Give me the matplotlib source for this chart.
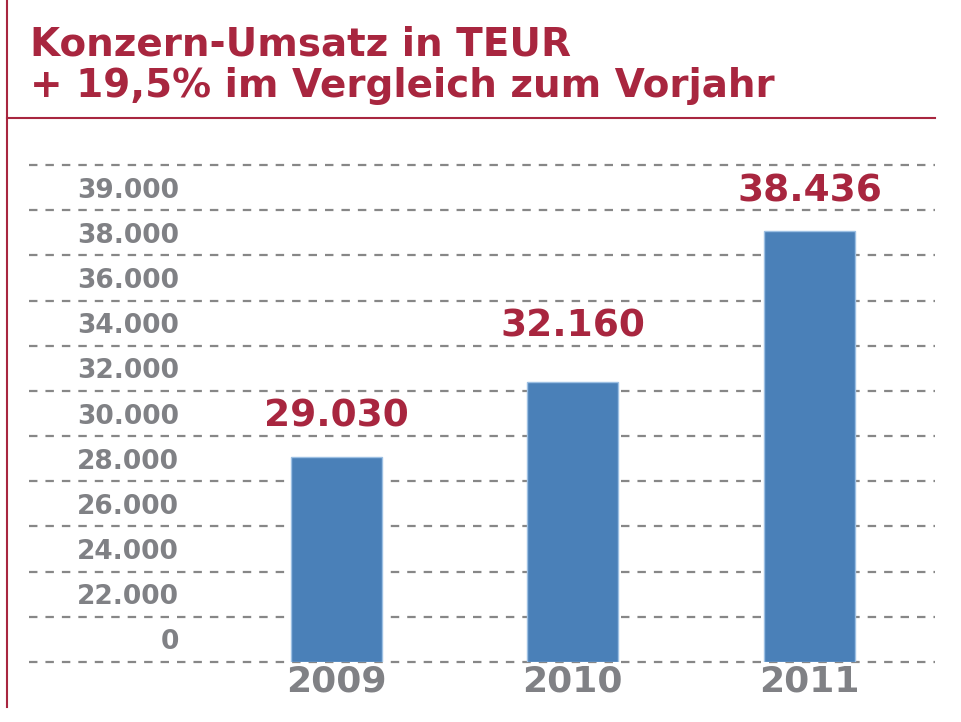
import numpy as np
import matplotlib.pyplot as plt
from matplotlib.lines import Line2D

years = ["2009", "2010", "2011"]
umsatz = [29030, 32160, 38436]
value_labels = ["29.030", "32.160", "38.436"]
tick_labels = ["0", "22.000", "24.000", "26.000", "28.000", "30.000",
               "32.000", "34.000", "36.000", "38.000", "39.000"]

title_1 = "Konzern-Umsatz in TEUR"
title_2 = "+ 19,5% im Vergleich zum Vorjahr"

RED = "#a8263f"
GRAY = "#808185"
BLUE = "#4a80b8"

W, H = 961, 722


def main():
    fig = plt.figure(figsize=(W / 100, H / 100), dpi=100)
    plt.rcParams["font.family"] = ["DejaVu Sans"]

    ax = fig.add_axes([29 / W, 60 / H, 906 / W, 497 / H])

    # broken axis as in the original: bars start at the bottom line
    y_lo, y_hi = 20540, 41170
    ax.set_ylim(y_lo, y_hi)
    ax.set_xlim(-1.297, 2.530)

    x = np.arange(len(years))
    heights = np.array(umsatz) - y_lo
    bars = ax.bar(x, heights, bottom=y_lo, width=0.384, color=BLUE,
                  edgecolor="#9dc0e3", linewidth=1, zorder=2)

    # value labels above the bars
    label_gap = [22, 33, 21.5]
    for rect, txt, gap in zip(bars, value_labels, label_gap):
        ax.annotate(txt, (rect.get_x() + rect.get_width() / 2, rect.get_y() + rect.get_height()),
                    xytext=(0, gap), textcoords="offset points",
                    ha="center", va="baseline", fontsize=27,
                    fontweight="bold", color=RED)

    # evenly spaced dashed lines, labels in the bands between them
    n = len(tick_labels)
    edges = np.linspace(y_lo, y_hi, n + 1)
    mids = (edges[:-1] + edges[1:]) / 2
    ax.set_yticks(edges, labels=[""] * len(edges))
    ax.set_yticks(mids, labels=tick_labels, minor=True)
    ax.grid(axis="y", which="major", color="#878787", linewidth=1.6,
            linestyle=(0, (3.8, 3.6)))
    for gl in ax.get_ygridlines():
        gl.set_clip_on(False)
    ax.set_axisbelow(True)
    ax.tick_params(axis="y", which="both", length=0)
    ax.tick_params(axis="y", which="minor", pad=-108, labelsize=19,
                   labelcolor=GRAY)
    for lab in ax.get_yticklabels(minor=True):
        lab.set_fontweight("bold")

    ax.set_xticks(x, labels=years)
    ax.tick_params(axis="x", length=0, pad=1.5, labelsize=26, labelcolor=GRAY)
    for lab in ax.get_xticklabels():
        lab.set_fontweight("bold")

    for s in ax.spines.values():
        s.set_visible(False)

    # title
    fig.text(30 / W, 1 - 56 / H, title_1, fontsize=28, fontweight="bold",
             color=RED, va="baseline", ha="left")
    fig.text(30 / W, 1 - 97 / H, title_2, fontsize=28, fontweight="bold",
             color=RED, va="baseline", ha="left")

    # red frame lines
    fig.add_artist(Line2D([7 / W, 7 / W], [1, 1 - 707 / H], color=RED, linewidth=1.5))
    fig.add_artist(Line2D([7 / W, 935 / W], [1 - 118 / H, 1 - 118 / H], color=RED, linewidth=1.5))

    fig.savefig("out.png", dpi=100)
    plt.close(fig)


if __name__ == "__main__":
    main()
